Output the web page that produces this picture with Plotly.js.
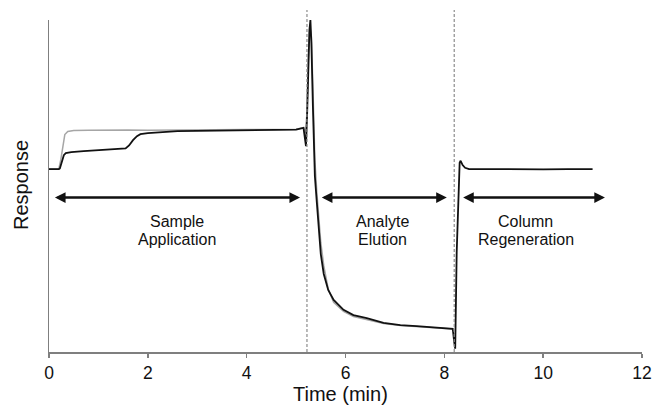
<!DOCTYPE html>
<html>
<head>
<meta charset="utf-8">
<script src="https://cdn.plot.ly/plotly-3.0.1.min.js"></script>
<style>html,body{margin:0;padding:0;background:#fff;}#chart{width:654px;height:405px;}</style>
</head>
<body>
<div id="chart"></div>
<script>
// Time (min) and response (arbitrary units, 0-100) for the two runs
const blackTime = [0, 0.1, 0.2, 0.22, 0.26, 0.3, 0.34, 0.45, 0.7, 1.0, 1.3, 1.55, 1.62, 1.7, 1.78, 1.85, 2.0, 2.3, 2.6, 3.0, 3.5, 4.0, 4.5, 5.0, 5.15, 5.18, 5.2, 5.22, 5.24, 5.27, 5.29, 5.31, 5.34, 5.38, 5.42, 5.46, 5.5, 5.56, 5.65, 5.76, 5.96, 6.16, 6.43, 6.77, 7.11, 7.44, 7.78, 8.0, 8.17, 8.2, 8.22, 8.25, 8.29, 8.31, 8.33, 8.37, 8.42, 8.5, 9.0, 9.5, 10.0, 10.5, 11.0];
const blackResp = [55.1, 55.0, 55.1, 55.3, 57.5, 59.3, 59.9, 60.2, 60.5, 60.8, 61.0, 61.3, 62.2, 63.8, 65.0, 65.6, 65.9, 66.3, 66.5, 66.6, 66.7, 66.8, 66.9, 67.0, 67.5, 64.5, 62.0, 70, 82, 97, 100, 93, 74, 53, 45, 36, 29.5, 23.5, 18.7, 15.7, 12.7, 11.1, 10.2, 8.8, 8.1, 7.8, 7.4, 7.2, 7.0, 3.0, 1.0, 30, 50, 57, 57.6, 56.3, 55.5, 55.1, 55.1, 55.0, 55.0, 55.1, 55.1];

const grayTime = [0, 0.2, 0.24, 0.28, 0.32, 0.38, 0.5, 0.8, 1.2, 1.6, 2.0, 2.5, 3.0, 3.5, 4.0, 4.5, 5.0, 5.15, 5.19, 5.22, 5.25, 5.28, 5.31, 5.34, 5.38, 5.42, 5.46, 5.5, 5.56, 5.65, 5.76, 5.96, 6.16, 6.43, 6.77, 7.11, 7.44, 7.78, 8.0, 8.17];
const grayResp = [55.1, 55.2, 58.0, 62.5, 65.5, 66.4, 66.7, 66.8, 66.9, 66.9, 66.8, 66.9, 66.9, 67.0, 67.0, 67.0, 67.1, 67.6, 66.0, 72, 90, 98, 95, 80, 58, 48, 40, 33, 26, 19, 15, 12.2, 10.7, 9.8, 8.6, 8.0, 7.7, 7.3, 7.1, 6.9];

// Phase boundaries (min)
const boundaries = [5.22, 8.2];
// Phase arrows: start, end (min) and their labels
const phaseStart = [0.09, 5.49, 8.35];
const phaseEnd = [5.08, 8.05, 11.25];
const phaseLine1 = ["Sample", "Analyte", "Column"];
const phaseLine2 = ["Application", "Elution", "Regeneration"];
const labelCenter = [2.6, 6.74, 9.65];
const arrowLevel = 46.5;

const xTicks = [0, 2, 4, 6, 8, 10, 12];

const FONT = 'Arial, Liberation Sans, sans-serif';

const traces = [
  {x: grayTime, y: grayResp, type: 'scatter', mode: 'lines', line: {color: '#a6a6a6', width: 1.5}, hoverinfo: 'skip'},
  {x: blackTime, y: blackResp, type: 'scatter', mode: 'lines', line: {color: '#111111', width: 1.8}, hoverinfo: 'skip'}
];

const shapes = boundaries.map(b => ({
  type: 'line', xref: 'x', yref: 'paper', x0: b, x1: b, y0: 0, y1: 1.03,
  line: {color: '#8c8c8c', width: 1.2, dash: '3px,2px'}
}));

const annotations = [];
phaseStart.forEach((s, i) => {
  annotations.push({
    xref: 'x', yref: 'y', axref: 'x', ayref: 'y',
    x: phaseEnd[i], y: arrowLevel, ax: s, ay: arrowLevel,
    text: '', showarrow: true, arrowhead: 2, startarrowhead: 2, arrowside: 'end+start',
    arrowsize: 0.85, startarrowsize: 0.85, arrowwidth: 2.5, arrowcolor: '#111111',
    standoff: 0, startstandoff: 0
  });
  annotations.push({xref: 'x', yref: 'paper', x: labelCenter[i], y: (352 - 221) / 332, text: phaseLine1[i], showarrow: false,
    xanchor: 'center', yanchor: 'middle', font: {size: 16, color: '#111', family: FONT}});
  annotations.push({xref: 'x', yref: 'paper', x: labelCenter[i], y: (352 - 239) / 332, text: phaseLine2[i], showarrow: false,
    xanchor: 'center', yanchor: 'middle', font: {size: 16, color: '#111', family: FONT}});
});
annotations.push({xref: 'paper', yref: 'paper', x: (21 - 49) / 593, y: (352 - 185) / 332, text: 'Response', textangle: -90,
  showarrow: false, xanchor: 'center', yanchor: 'middle', font: {size: 20, color: '#111', family: FONT}});
annotations.push({xref: 'paper', yref: 'paper', x: (340 - 49) / 593, y: (352 - 394) / 332, text: 'Time (min)',
  showarrow: false, xanchor: 'center', yanchor: 'middle', font: {size: 20, color: '#111', family: FONT}});

const layout = {
  width: 654, height: 405,
  margin: {l: 49, r: 12, t: 20, b: 53},
  paper_bgcolor: '#ffffff', plot_bgcolor: '#ffffff',
  showlegend: false,
  font: {family: FONT, color: '#111'},
  xaxis: {
    range: [0, 12], tickvals: xTicks, ticktext: xTicks.map(String),
    showgrid: false, zeroline: false, showline: true, linecolor: '#7f7f7f', linewidth: 1.5,
    ticks: 'outside', ticklen: 4, tickcolor: '#7f7f7f', tickwidth: 1.5,
    tickfont: {size: 17.5, color: '#111'}
  },
  yaxis: {
    range: [0, 100], showgrid: false, zeroline: false, showline: true, linecolor: '#7f7f7f', linewidth: 1.5,
    ticks: '', showticklabels: false
  },
  shapes: shapes,
  annotations: annotations
};

Plotly.newPlot('chart', traces, layout, {displayModeBar: false, staticPlot: true});
</script>
</body>
</html>
